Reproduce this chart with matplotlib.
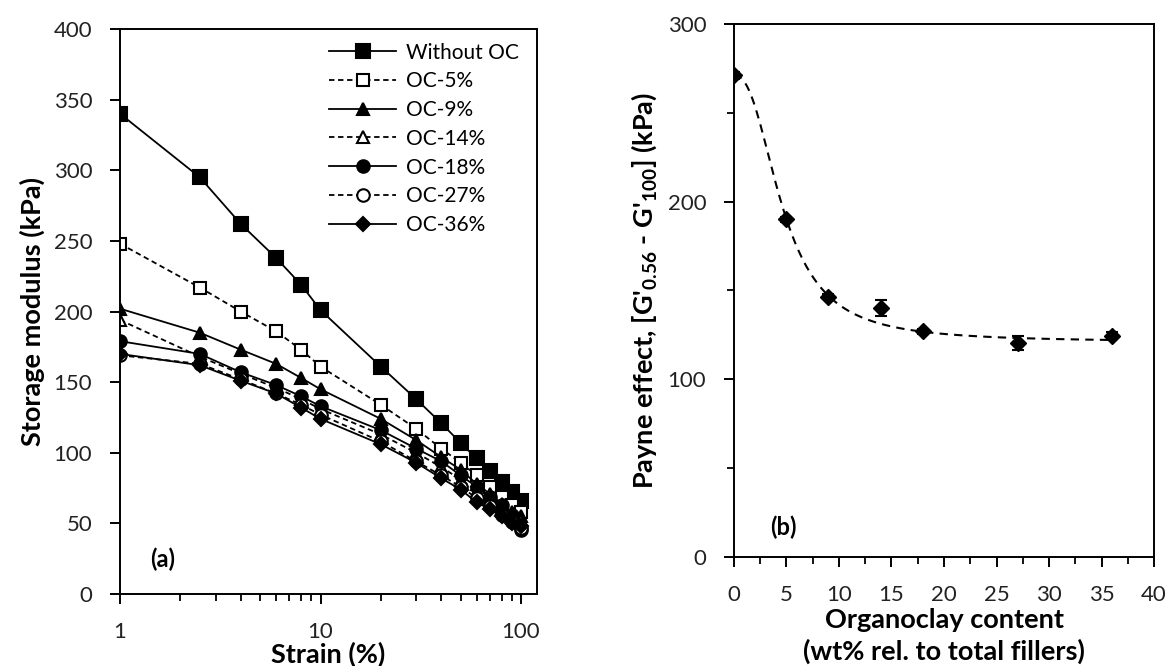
import matplotlib.pyplot as plt
import matplotlib.ticker as ticker
import numpy as np

plt.rcParams['font.family'] = ['Lato', 'DejaVu Sans']
plt.rcParams['mathtext.fontset'] = 'custom'
plt.rcParams['mathtext.rm'] = 'Lato:bold'
plt.rcParams['mathtext.bf'] = 'Lato:bold'

# strain sweep (a)
strain = [1, 2.5, 4, 6, 8, 10, 20, 30, 40, 50, 60, 70, 80, 90, 100]
g_without = [340, 295, 262, 238, 219, 201, 161, 138, 121, 107, 96, 87, 79, 72, 66]
g_oc5 = [248, 217, 200, 186, 173, 161, 134, 117, 103, 93, 84, 76, 69, 63, 58]
g_oc9 = [202, 185, 173, 163, 153, 145, 124, 109, 97, 88, 78, 71, 64, 58, 55]
g_oc14 = [194, 168, 156, 146, 138, 131, 113, 100, 90, 81, 73, 67, 61, 56, 52]
g_oc18 = [179, 170, 157, 148, 140, 133, 116, 103, 94, 84, 76, 69, 63, 56, 45]
g_oc27 = [169, 163, 152, 142, 134, 127, 108, 94, 84, 76, 68, 62, 56, 51, 47]
g_oc36 = [170, 162, 151, 142, 132, 124, 106, 93, 82, 74, 65, 60, 55, 50, 48]
series_labels = ['Without OC', 'OC-5%', 'OC-9%', 'OC-14%', 'OC-18%', 'OC-27%', 'OC-36%']

# payne effect (b)
oc_content = [0, 5, 9, 14, 18, 27, 36]
payne = [271, 190, 146.5, 140, 127, 120.5, 124.5]
payne_err = [2, 1.5, 1.5, 4.5, 1.5, 4, 2]
# trend line parameters: base + drop / (1 + (x/x_half)^n)
fit_base, fit_drop, fit_xhalf, fit_n = 121, 150, 4.68, 2.39

fig = plt.figure(figsize=(11.71, 6.66), dpi=100)
ax1 = fig.add_axes([0.1025, 0.108, 0.3561, 0.8485])
ax2 = fig.add_axes([0.6268, 0.1637, 0.3587, 0.8003])

styles = [
    dict(marker='s', ls='-', mfc='black'),
    dict(marker='s', ls=(0, (3, 2)), mfc='white'),
    dict(marker='^', ls='-', mfc='black'),
    dict(marker='^', ls=(0, (3, 2)), mfc='white'),
    dict(marker='o', ls='-', mfc='black'),
    dict(marker='o', ls=(0, (3, 2)), mfc='white'),
    dict(marker='D', ls='-', mfc='black'),
]
sizes = [10, 9, 9, 8.5, 9, 9, 7]
all_g = [g_without, g_oc5, g_oc9, g_oc14, g_oc18, g_oc27, g_oc36]
for g, lab, st, ms in zip(all_g, series_labels, styles, sizes):
    ax1.plot(strain, g, color='black', lw=1.3, ms=ms, mec='black', mew=1.5,
             label=lab, **st)

ax1.set_xscale('log')
ax1.set_xlim(1, 10 ** 2.08)
ax1.set_ylim(0, 400)
ax1.set_yticks(np.arange(0, 401, 50))
ax1.set_xticks([1, 10, 100])
ax1.xaxis.set_major_formatter(ticker.FuncFormatter(lambda v, p: f'{v:g}'))
ax1.xaxis.set_minor_locator(ticker.LogLocator(base=10, subs=np.arange(2, 10)))
ax1.xaxis.set_minor_formatter(ticker.NullFormatter())
ax1.set_xlabel('Strain (%)', fontsize=19.5, fontweight='bold', labelpad=0)
ax1.set_ylabel('Storage modulus (kPa)', fontsize=19.5, fontweight='bold', labelpad=6)
ax1.text(0.072, 0.048, '(a)', transform=ax1.transAxes, fontsize=17, fontweight='bold')
ax1.legend(loc='upper right', frameon=False, fontsize=15, handlelength=3.2,
           handletextpad=0.5, labelspacing=0.42, borderaxespad=0.25,
           bbox_to_anchor=(0.99, 1.0))

# payne effect with trend line
ax2.errorbar(oc_content, payne, yerr=payne_err, fmt='D', color='black', ms=8,
             capsize=4, elinewidth=1.5, capthick=1.5, zorder=3)
xs = np.linspace(0, 36, 200)
ax2.plot(xs, fit_base + fit_drop / (1 + (xs / fit_xhalf) ** fit_n),
         color='black', ls=(0, (4, 3)), lw=1.5, zorder=2)
ax2.set_xlim(0, 40)
ax2.set_ylim(0, 300)
ax2.set_xticks(np.arange(0, 41, 5))
ax2.set_yticks([0, 100, 200, 300])
ax2.xaxis.set_minor_locator(ticker.MultipleLocator(2.5))
ax2.yaxis.set_minor_locator(ticker.MultipleLocator(50))
ax2.set_xlabel('Organoclay content\n(wt% rel. to total fillers)', fontsize=19.5,
               fontweight='bold', labelpad=2, linespacing=1.35)
ax2.set_ylabel("Payne effect, [G'$_{0.56}$ - G'$_{100}$] (kPa)", fontsize=19.5,
               fontweight='bold', labelpad=6)
ax2.text(0.086, 0.041, '(b)', transform=ax2.transAxes, fontsize=17, fontweight='bold')

for ax in (ax1, ax2):
    for s in ax.spines.values():
        s.set_linewidth(1.4)
    ax.tick_params(which='major', direction='out', length=7, width=1.4,
                   labelsize=16, colors='black', labelcolor='#222222', pad=13)
    ax.tick_params(which='minor', direction='out', length=5, width=1.3)

fig.savefig('out.png', dpi=100)
